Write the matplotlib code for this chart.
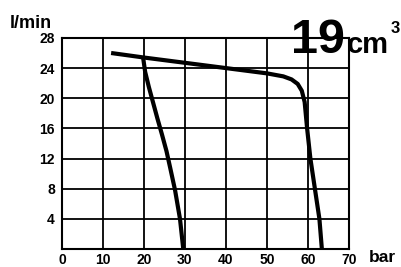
"""
Flow vs pressure curve for a 19 cm3 pump.
"""

import matplotlib.pyplot as plt

# flat curve (main characteristic)
main_p = [12, 20, 30, 40, 50, 54, 56, 57.5, 58.5, 59.2, 59.8, 60.6, 61.7, 62.8, 63.4]
main_q = [26.0, 25.4, 24.7, 24.0, 23.3, 22.9, 22.5, 21.9, 21.0, 19.5, 16.0, 12.0, 8.0, 4.0, 0.0]

# steep curve (branch from 20 bar)
branch_p = [19.8, 20.3, 21.2, 22.2, 23.3, 24.4, 25.5, 26.4, 27.6, 28.8, 29.6]
branch_q = [25.4, 23.5, 21.5, 19.5, 17.3, 15.2, 13.0, 10.8, 7.8, 4.0, 0.0]

x_ticks = [0, 10, 20, 30, 40, 50, 60, 70]
y_ticks = [4, 8, 12, 16, 20, 24, 28]

plt.rcParams['font.family'] = ['Liberation Sans', 'DejaVu Sans']

fig = plt.figure(figsize=(4.02, 2.67), dpi=100)
ax = fig.add_axes([0.154, 0.067, 0.714, 0.791])

ax.plot(main_p, main_q, color='black', lw=3.0, solid_capstyle='butt')
ax.plot(branch_p, branch_q, color='black', lw=3.0, solid_capstyle='butt')

ax.set_xlim(0, 70)
ax.set_ylim(0, 28)
ax.set_xticks(x_ticks)
ax.set_yticks(y_ticks)
ax.grid(True, color='black', lw=1.3)
ax.tick_params(axis='x', length=0, labelsize=10, pad=2.5)
ax.tick_params(axis='y', length=0, labelsize=10, pad=5)
for lbl in ax.get_xticklabels() + ax.get_yticklabels():
    lbl.set_fontweight('bold')
for s in ax.spines.values():
    s.set_linewidth(1.5)

fig.text(0.025, 0.895, 'l/min', fontsize=13, fontweight='bold', ha='left', va='baseline')
fig.text(0.918, 0.02, 'bar', fontsize=12.5, fontweight='bold', ha='left', va='baseline')
fig.text(0.724, 0.80, '19', fontsize=35, fontweight='bold', ha='left', va='baseline')
fig.text(0.863, 0.80, 'cm', fontsize=21, fontweight='bold', ha='left', va='baseline')
fig.text(0.972, 0.876, '3', fontsize=12, fontweight='bold', ha='left', va='baseline')

plt.savefig('out.png')
